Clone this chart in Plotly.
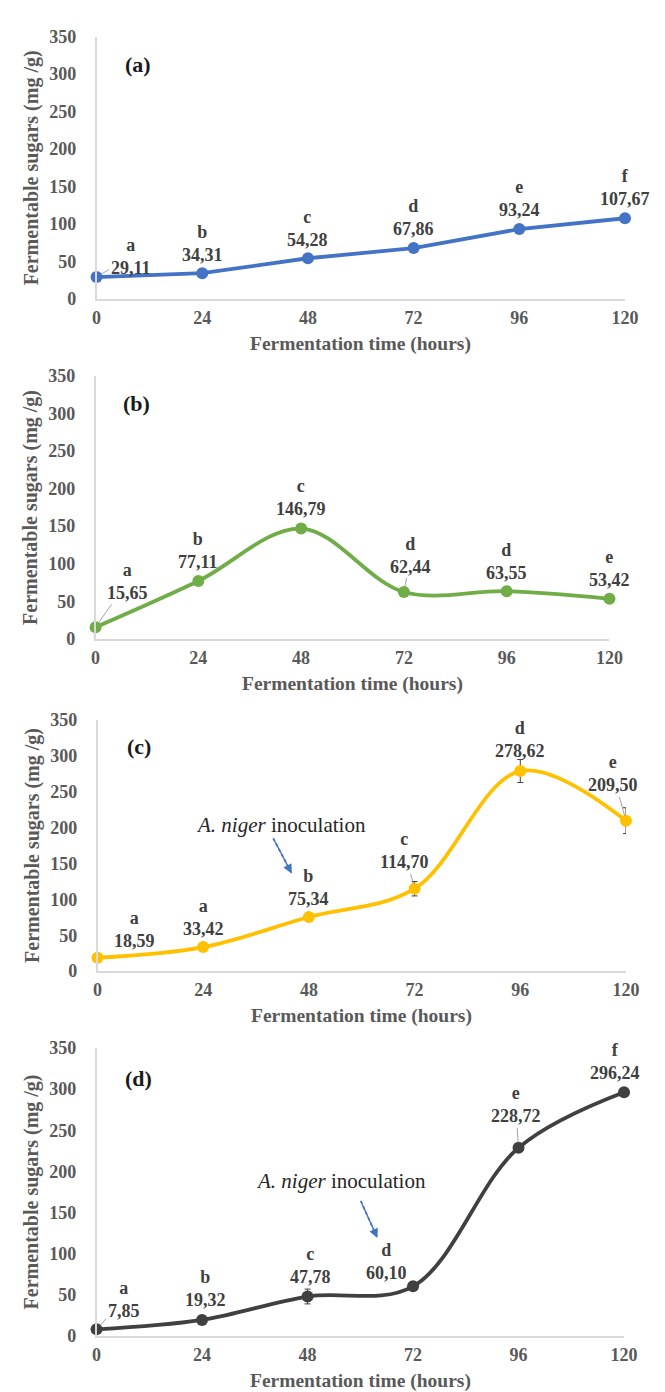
import plotly.graph_objects as go

# ---------------- data ----------------
hours = [0, 24, 48, 72, 96, 120]

sugars_a = [29.11, 34.31, 54.28, 67.86, 93.24, 107.67]
letters_a = ["a", "b", "c", "d", "e", "f"]
err_a = [1, 1, 1, 1, 1, 1]

sugars_b = [15.65, 77.11, 146.79, 62.44, 63.55, 53.42]
letters_b = ["a", "b", "c", "d", "d", "e"]
err_b = [1, 1, 2, 1, 1, 1]

sugars_c = [18.59, 33.42, 75.34, 114.70, 278.62, 209.50]
letters_c = ["a", "a", "b", "c", "d", "e"]
err_c = [2, 4, 6, 10, 16, 18]

sugars_d = [7.85, 19.32, 47.78, 60.10, 228.72, 296.24]
letters_d = ["a", "b", "c", "d", "e", "f"]
err_d = [1, 4, 9, 4, 3, 3]

panel_names = ["(a)", "(b)", "(c)", "(d)"]
x_ticks = [0, 24, 48, 72, 96, 120]
y_ticks = [0, 50, 100, 150, 200, 250, 300, 350]
x_title = "Fermentation time (hours)"
y_title = "Fermentable sugars (mg /g)"
inoc_text = "<i>A. niger</i> inoculation"

# ---------------- styling / layout ----------------
W, H = 665, 1392
FONT = "Liberation Serif"
TICK_COLOR = "#595959"
LABEL_COLOR = "#404040"
AXIS_LINE = "#d9d9d9"

panels = [
    dict(y=sugars_a, let=letters_a, err=err_a, color="#4472C4", shape="linear",
         px=(86, 630), py=(19, 285),
         offs=[(34, -21, True), (0, -30, False), (0, -30, False), (0, -31, False), (0, -31, False), (0, -31, False)],
         inoc=None, show_err=False),
    dict(y=sugars_b, let=letters_b, err=err_b, color="#70AD47", shape="spline",
         px=(85, 614), py=(363, 630),
         offs=[(32, -46, True), (0, -30, False), (0, -31, False), (7, -37, True), (0, -30, False), (0, -30, False)],
         inoc=None, show_err=False),
    dict(y=sugars_c, let=letters_c, err=err_c, color="#FFC000", shape="spline",
         px=(87, 631), py=(712, 967),
         offs=[(37, -28, False), (0, -30, False), (0, -30, False), (-10, -38, True), (0, -32, False), (-13, -47, True)],
         inoc=dict(text=(41.7, 203), a0=(39.9, 185), a1=(44.1, 136)), show_err=True),
    dict(y=sugars_d, let=letters_d, err=err_d, color="#404040", shape="spline",
         px=(86, 629), py=(1045, 1337),
         offs=[(27, -30, True), (3, -31, False), (3, -31, False), (-27, -25, False), (-3, -43, True), (-9, -31, False)],
         inoc=dict(text=(55.5, 188), a0=(60.1, 164), a1=(63.9, 119)), show_err=True),
]


def bold(s):
    return "<b>%s</b>" % s


fig = go.Figure()
layout = dict(
    width=W, height=H, margin=dict(l=0, r=0, t=0, b=0),
    paper_bgcolor="white", plot_bgcolor="white", showlegend=False,
)
annotations = []
shapes = []

for i, p in enumerate(panels):
    n = "" if i == 0 else str(i + 1)
    xa, ya = "x" + n, "y" + n
    xdom = [p["px"][0] / W, p["px"][1] / W]
    ydom = [1 - p["py"][1] / H, 1 - p["py"][0] / H]

    fig.add_trace(go.Scatter(
        x=hours, y=p["y"], xaxis=xa, yaxis=ya, mode="lines+markers",
        line=dict(color=p["color"], width=3.8, shape=p["shape"]),
        marker=dict(color=p["color"], size=12),
        error_y=dict(type="data", array=p["err"], visible=p["show_err"],
                     color="#404040", thickness=1, width=3),
        cliponaxis=False, hoverinfo="skip",
    ))

    layout["xaxis" + n] = dict(
        domain=xdom, anchor=ya, range=[0, 120],
        tickvals=x_ticks, ticktext=[bold(v) for v in x_ticks],
        showgrid=False, zeroline=False, showline=True, linecolor=AXIS_LINE, linewidth=1.5,
        ticks="", ticklen=0, ticklabelstandoff=2,
        tickfont=dict(family=FONT, size=18, color=TICK_COLOR),
    )
    layout["yaxis" + n] = dict(
        domain=ydom, anchor=xa, range=[0, 350],
        tickvals=y_ticks, ticktext=[bold(v) for v in y_ticks],
        showgrid=False, zeroline=False, showline=True, linecolor=AXIS_LINE, linewidth=1.5,
        ticks="", ticklen=0, ticklabelstandoff=15,
        tickfont=dict(family=FONT, size=18, color=TICK_COLOR),
    )

    # axis titles
    annotations.append(dict(
        xref=xa + " domain", yref=ya + " domain", x=0.5, y=0, yshift=-45,
        text=bold(x_title), showarrow=False, xanchor="center", yanchor="middle",
        font=dict(family=FONT, size=19.5, color=TICK_COLOR),
    ))
    annotations.append(dict(
        xref=xa + " domain", yref=ya + " domain", x=0, y=0.5, xshift=-65,
        text=bold(y_title), showarrow=False, textangle=-90, xanchor="center", yanchor="middle",
        font=dict(family=FONT, size=20, color=TICK_COLOR),
    ))
    # panel letter
    annotations.append(dict(
        xref=xa, yref=ya, x=9.5, y=313, text=bold(panel_names[i]),
        showarrow=False, font=dict(family=FONT, size=22, color="#1a1a1a"),
    ))
    # data labels
    for t, v, l, (dx, dy, lead) in zip(hours, p["y"], p["let"], p["offs"]):
        txt = bold("%s<br>%s" % (l, ("%.2f" % v).replace(".", ",")))
        annotations.append(dict(
            xref=xa, yref=ya, x=t, y=v, text=txt, showarrow=True,
            ax=dx, ay=dy, arrowhead=0, arrowwidth=0.8, standoff=5,
            arrowcolor="#8c8c8c" if lead else "rgba(0,0,0,0)",
            font=dict(family=FONT, size=18, color=LABEL_COLOR),
        ))
    # inoculation note
    if p["inoc"]:
        tx, ty = p["inoc"]["text"]
        annotations.append(dict(
            xref=xa, yref=ya, x=tx, y=ty, text=inoc_text, showarrow=False,
            font=dict(family=FONT, size=21, color="#262626"),
        ))
        (x0, y0), (x1, y1) = p["inoc"]["a0"], p["inoc"]["a1"]
        shapes.append(dict(
            type="line", xref=xa, yref=ya, x0=x0, y0=y0, x1=x1, y1=y1,
            line=dict(color="#4472C4", width=1.8, dash="dot"),
        ))
        annotations.append(dict(
            xref=xa, yref=ya, x=x1, y=y1, ax=x0, ay=y0, axref=xa, ayref=ya,
            text="", showarrow=True, arrowhead=2, arrowsize=1.3, arrowwidth=1.4,
            arrowcolor="#4472C4",
        ))

layout["annotations"] = annotations
layout["shapes"] = shapes
fig.update_layout(**layout)
fig.write_html("out.html")
